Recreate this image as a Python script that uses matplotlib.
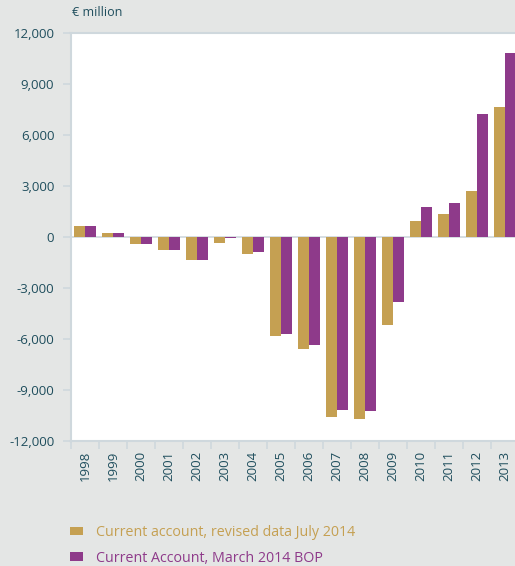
import numpy as np
import matplotlib
matplotlib.use("Agg")
import matplotlib.pyplot as plt
from matplotlib.ticker import FuncFormatter

years = [str(y) for y in range(1998, 2014)]
revised_july_2014 = [650, 230, -390, -750, -1350, -330, -1000, -5800, -6590,
                     -10590, -10700, -5180, 940, 1350, 2700, 7650]
bop_march_2014 = [650, 250, -400, -750, -1350, -50, -860, -5700, -6350,
                  -10180, -10240, -3820, 1760, 2000, 7240, 10820]

GOLD = "#c5a052"
PURPLE = "#8e3a8a"
BG = "#e4e6e5"
TEXT = "#1f4e5d"
LINE = "#cfd8dd"

plt.rcParams['font.family'] = ['Open Sans', 'DejaVu Sans']

fig = plt.figure(figsize=(5.15, 5.66), dpi=100, facecolor=BG)
ax = fig.add_axes([71 / 515, 1 - 441 / 566, 448 / 515, 408 / 566])
ax.set_facecolor("white")

x = np.arange(len(years))
w = 0.39
ax.bar(x - w / 2, revised_july_2014, width=w, color=GOLD,
       label="Current account, revised data July 2014")
ax.bar(x + w / 2, bop_march_2014, width=w, color=PURPLE,
       label="Current Account, March 2014 BOP")
ax.axhline(0, color=LINE, lw=1.2, zorder=0.5)

ax.set_xlim(-0.5, len(years) - 0.5)
ax.set_ylim(-12000, 12000)
ax.set_yticks(range(-12000, 12001, 3000))
ax.yaxis.set_major_formatter(FuncFormatter(lambda v, p: f"{int(v):,}"))

ax.set_xticks(x)
ax.set_xticklabels(years, rotation=90)
ax.set_xticks(np.arange(-0.5, len(years), 1), minor=True)
ax.tick_params(axis='x', which='major', length=0, pad=7, labelsize=9.5, labelcolor=TEXT)
ax.tick_params(axis='x', which='minor', length=6, width=1.2, color=LINE)
ax.tick_params(axis='y', length=6, width=1.2, color=LINE, labelsize=9.5,
               labelcolor=TEXT, pad=6)

ax.spines['right'].set_visible(False)
for side in ['left', 'top', 'bottom']:
    ax.spines[side].set_color(LINE)
    ax.spines[side].set_linewidth(1.5)

fig.text(72 / 515, 1 - 13 / 566, "€ million", color=TEXT, fontsize=9, va='center')

leg = fig.legend(loc='upper left', bbox_to_anchor=(57 / 515, 1 - 512 / 566),
                 frameon=False, fontsize=10.3, handlelength=0.9, handleheight=0.55,
                 handletextpad=0.9, labelspacing=0.75)
for txt, c in zip(leg.get_texts(), [GOLD, PURPLE]):
    txt.set_color(c)

fig.savefig("out.png", dpi=100, facecolor=BG)
